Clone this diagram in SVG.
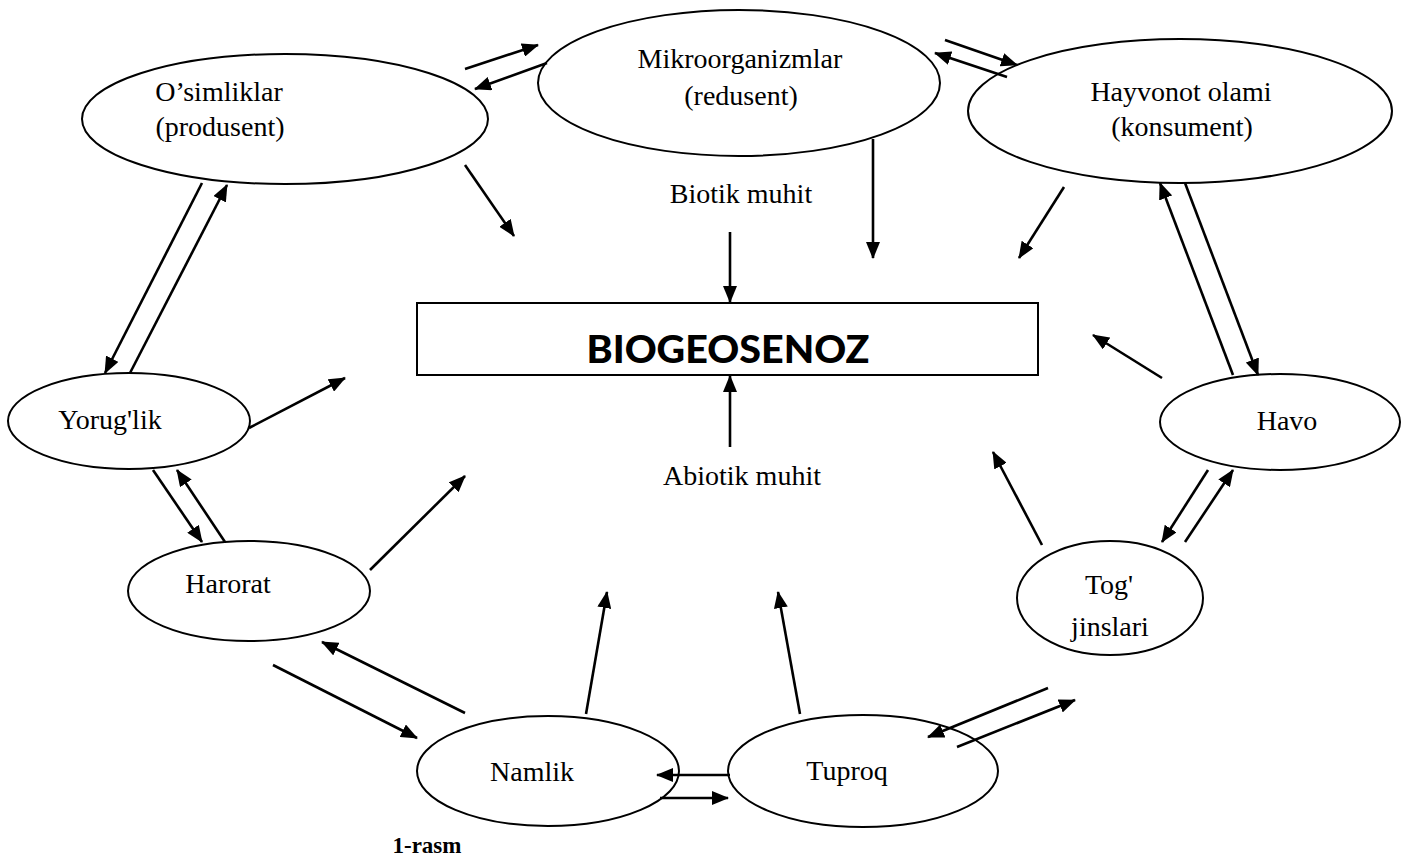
<svg xmlns="http://www.w3.org/2000/svg" width="1411" height="858" viewBox="0 0 1411 858">
<style>
.n{fill:#fff;stroke:#000;stroke-width:2}
.t{font-family:"Liberation Serif","Times New Roman",serif;font-size:28px;text-anchor:middle;fill:#000}
.c line{stroke:#000;stroke-width:2.6;marker-end:url(#ah)}
</style>
<defs>
<marker id="ah" markerUnits="userSpaceOnUse" markerWidth="17" markerHeight="14" refX="16" refY="7" orient="auto" viewBox="0 0 17 14">
<path d="M0,0 L17,7 L0,14 z" fill="#000"/>
</marker>
</defs>
<rect width="1411" height="858" fill="#fff"/>
<g id="biogeosenoz">
<rect x="417" y="303" width="621" height="72" fill="#fff" stroke="#000" stroke-width="2"/>
<text x="728" y="363" font-family="Lato,'Open Sans',sans-serif" font-weight="900" font-size="37" text-anchor="middle" textLength="283" lengthAdjust="spacingAndGlyphs">BIOGEOSENOZ</text>
</g>
<g id="osimliklar"><ellipse class="n" cx="285" cy="119" rx="203" ry="65"/><text class="t" x="219" y="101">O’simliklar</text><text class="t" x="220" y="136">(produsent)</text></g>
<g id="mikroorganizmlar"><ellipse class="n" cx="739" cy="83" rx="201" ry="73"/><text class="t" x="740" y="68">Mikroorganizmlar</text><text class="t" x="741" y="105">(redusent)</text></g>
<g id="hayvonot"><ellipse class="n" cx="1180" cy="111" rx="212" ry="72"/><text class="t" x="1181" y="101">Hayvonot olami</text><text class="t" x="1182" y="136">(konsument)</text></g>
<g id="yoruglik"><ellipse class="n" cx="129" cy="421" rx="121" ry="48"/><text class="t" x="110" y="429">Yorug'lik</text></g>
<g id="harorat"><ellipse class="n" cx="249" cy="591" rx="121" ry="50"/><text class="t" x="228" y="593">Harorat</text></g>
<g id="namlik"><ellipse class="n" cx="548" cy="771" rx="131" ry="55"/><text class="t" x="532" y="781">Namlik</text></g>
<g id="tuproq"><ellipse class="n" cx="863" cy="771" rx="135" ry="56"/><text class="t" x="847" y="780">Tuproq</text></g>
<g id="togjinslari"><ellipse class="n" cx="1110" cy="598" rx="93" ry="57"/><text class="t" x="1109" y="594">Tog'</text><text class="t" x="1110" y="636">jinslari</text></g>
<g id="havo"><ellipse class="n" cx="1280" cy="422" rx="120" ry="48"/><text class="t" x="1287" y="430">Havo</text></g>
<g id="labels">
<text class="t" x="741" y="203">Biotik muhit</text>
<text class="t" x="742" y="485">Abiotik muhit</text>
<text x="427" y="853" font-family="'Liberation Serif','Times New Roman',serif" font-weight="bold" font-size="23" text-anchor="middle">1-rasm</text>
</g>
<g id="connectors" class="c">
<line x1="465" y1="69" x2="538" y2="45"/>
<line x1="547" y1="63" x2="475" y2="89"/>
<line x1="945" y1="40" x2="1017" y2="65"/>
<line x1="1007" y1="77" x2="935" y2="53"/>
<line x1="465" y1="165" x2="514" y2="236"/>
<line x1="873" y1="139" x2="873" y2="258"/>
<line x1="1064" y1="187" x2="1019" y2="258"/>
<line x1="730" y1="232" x2="730" y2="302"/>
<line x1="730" y1="447" x2="730" y2="376"/>
<line x1="202" y1="183" x2="105" y2="373"/>
<line x1="130" y1="373" x2="227" y2="185"/>
<line x1="249" y1="428" x2="345" y2="378"/>
<line x1="153" y1="470" x2="202" y2="542"/>
<line x1="225" y1="542" x2="177" y2="470"/>
<line x1="370" y1="570" x2="465" y2="476"/>
<line x1="273" y1="665" x2="417" y2="738"/>
<line x1="465" y1="713" x2="322" y2="642"/>
<line x1="586" y1="714" x2="607" y2="592"/>
<line x1="800" y1="714" x2="778" y2="592"/>
<line x1="730" y1="775" x2="657" y2="775"/>
<line x1="660" y1="798" x2="728" y2="798"/>
<line x1="1048" y1="688" x2="928" y2="737"/>
<line x1="957" y1="747" x2="1075" y2="700"/>
<line x1="1042" y1="545" x2="993" y2="452"/>
<line x1="1208" y1="470" x2="1162" y2="542"/>
<line x1="1185" y1="542" x2="1233" y2="470"/>
<line x1="1162" y1="378" x2="1093" y2="335"/>
<line x1="1233" y1="375" x2="1160" y2="183"/>
<line x1="1185" y1="183" x2="1258" y2="375"/>
</g>
</svg>
